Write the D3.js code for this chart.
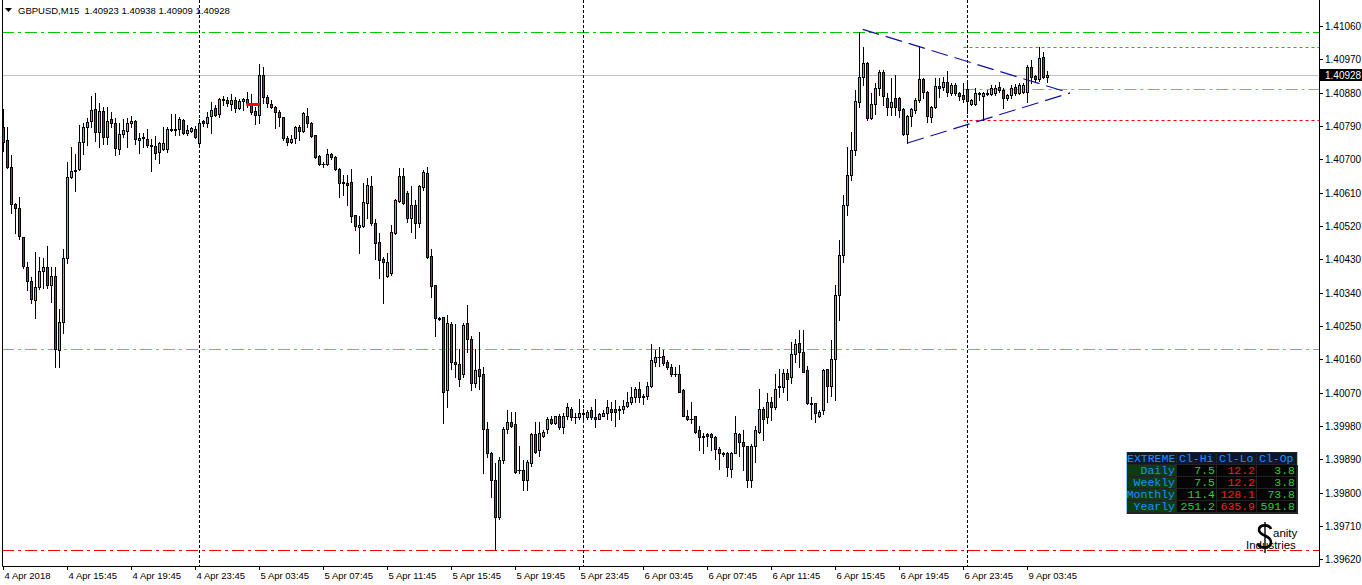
<!DOCTYPE html>
<html><head><meta charset="utf-8">
<script src="https://cdn.jsdelivr.net/npm/d3@7"></script>
<style>body{margin:0;background:#fff;overflow:hidden}svg{display:block}</style>
</head><body>
<svg id="chart" width="1362" height="585"></svg>
<script>
const symbolTitle = "GBPUSD,M15  1.40923 1.40938 1.40909 1.40928";
const timeLabels = ["4 Apr 2018","4 Apr 15:45","4 Apr 19:45","4 Apr 23:45","5 Apr 03:45","5 Apr 07:45","5 Apr 11:45","5 Apr 15:45","5 Apr 19:45","5 Apr 23:45","6 Apr 03:45","6 Apr 07:45","6 Apr 11:45","6 Apr 15:45","6 Apr 19:45","6 Apr 23:45","9 Apr 03:45"];
const timeLabelBars = [0,16,32,48,64,80,96,112,128,144,160,176,192,208,224,240,256];
const daySeparatorBars = [49,145,241];
const priceTicks = [1.41060,1.40970,1.40880,1.40790,1.40700,1.40610,1.40520,1.40430,1.40340,1.40250,1.40160,1.40070,1.39980,1.39890,1.39800,1.39710,1.39620];
const currentPrice = 1.40928;

const openP = [1.40787,1.40752,1.40679,1.40579,1.40568,1.40489,1.40408,1.40371,1.40319,1.40354,1.40398,1.40408,1.40360,1.40384,1.40184,1.40260,1.40433,1.40652,1.40668,1.40673,
1.40746,1.40787,1.40803,1.40835,1.40773,1.40830,1.40760,1.40808,1.40798,1.40727,1.40768,1.40776,1.40798,1.40803,1.40752,1.40757,1.40754,1.40738,1.40735,1.40719,
1.40727,1.40727,1.40781,1.40779,1.40781,1.40806,1.40771,1.40776,1.40781,1.40744,1.40803,1.40798,1.40816,1.40838,1.40822,1.40862,1.40860,1.40849,1.40860,1.40838,
1.40857,1.40862,1.40852,1.40830,1.40819,1.40927,1.40868,1.40849,1.40841,1.40827,1.40814,1.40757,1.40746,1.40757,1.40787,1.40776,1.40816,1.40798,1.40765,1.40708,
1.40687,1.40687,1.40714,1.40706,1.40673,1.40638,1.40635,1.40638,1.40549,1.40516,1.40519,1.40581,1.40627,1.40527,1.40476,1.40430,1.40384,1.40392,1.40500,1.40587,
1.40654,1.40608,1.40541,1.40576,1.40527,1.40625,1.40662,1.40438,1.40360,1.40271,1.40273,1.40076,1.40254,1.40154,1.40146,1.40119,1.40257,1.40214,1.40095,1.40135,
1.40119,1.39971,1.39906,1.39835,1.39733,1.39887,1.39971,1.39992,1.39984,1.39860,1.39862,1.39835,1.39881,1.39957,1.39916,1.39954,1.39971,1.40000,1.39987,1.40006,
1.39976,1.40008,1.40027,1.40003,1.40003,1.40016,1.40003,1.40022,1.40003,1.40000,1.40008,1.40014,1.40027,1.40025,1.40022,1.40027,1.40033,1.40046,1.40057,1.40079,
1.40060,1.40062,1.40087,1.40154,1.40165,1.40168,1.40152,1.40138,1.40119,1.40119,1.40076,1.40006,1.40000,1.40006,1.39968,1.39949,1.39957,1.39957,1.39949,1.39919,
1.39903,1.39906,1.39865,1.39908,1.39957,1.39938,1.39927,1.39835,1.39925,1.39965,1.40027,1.40003,1.40044,1.40030,1.40084,1.40084,1.40122,1.40111,1.40173,1.40203,
1.40181,1.40130,1.40041,1.40041,1.40008,1.40022,1.40133,1.40087,1.40162,1.40333,1.40441,1.40576,1.40657,1.40725,1.40854,1.40922,1.40960,1.40811,1.40849,1.40892,
1.40935,1.40865,1.40841,1.40865,1.40865,1.40835,1.40768,1.40816,1.40833,1.40860,1.40916,1.40881,1.40814,1.40841,1.40898,1.40895,1.40908,1.40879,1.40900,1.40879,
1.40873,1.40889,1.40849,1.40849,1.40879,1.40871,1.40879,1.40876,1.40879,1.40895,1.40887,1.40865,1.40873,1.40895,1.40879,1.40881,1.40881,1.40949,1.40925,1.40916,
1.40976,1.40923];
const highP = [1.40835,1.40787,1.40711,1.40581,1.40598,1.40489,1.40422,1.40381,1.40449,1.40435,1.40433,1.40465,1.40408,1.40408,1.40295,1.40457,1.40692,1.40733,1.40714,1.40792,
1.40798,1.40811,1.40871,1.40879,1.40852,1.40841,1.40841,1.40827,1.40811,1.40798,1.40808,1.40811,1.40816,1.40806,1.40771,1.40771,1.40781,1.40754,1.40762,1.40746,
1.40787,1.40787,1.40822,1.40822,1.40814,1.40808,1.40792,1.40787,1.40789,1.40808,1.40806,1.40827,1.40854,1.40846,1.40865,1.40871,1.40868,1.40876,1.40868,1.40862,
1.40865,1.40881,1.40876,1.40841,1.40957,1.40949,1.40873,1.40860,1.40844,1.40833,1.40814,1.40762,1.40765,1.40789,1.40792,1.40827,1.40838,1.40800,1.40765,1.40711,
1.40692,1.40727,1.40716,1.40708,1.40676,1.40657,1.40657,1.40673,1.40549,1.40546,1.40635,1.40649,1.40654,1.40538,1.40500,1.40435,1.40446,1.40522,1.40592,1.40676,
1.40676,1.40614,1.40627,1.40589,1.40630,1.40671,1.40679,1.40457,1.40360,1.40273,1.40273,1.40281,1.40262,1.40254,1.40189,1.40257,1.40306,1.40222,1.40187,1.40233,
1.40138,1.39992,1.39911,1.39879,1.39895,1.39976,1.40022,1.40019,1.40019,1.39925,1.39887,1.39887,1.39962,1.39992,1.39992,1.39968,1.40003,1.40008,1.40008,1.40011,
1.40014,1.40041,1.40030,1.40016,1.40052,1.40027,1.40022,1.40030,1.40052,1.40016,1.40022,1.40049,1.40044,1.40049,1.40035,1.40049,1.40071,1.40084,1.40084,1.40098,
1.40065,1.40098,1.40200,1.40184,1.40192,1.40184,1.40157,1.40146,1.40138,1.40144,1.40079,1.40022,1.40046,1.40006,1.39979,1.39960,1.39960,1.39960,1.39952,1.39922,
1.39911,1.39911,1.39911,1.40006,1.39962,1.39968,1.39927,1.39930,1.39981,1.40081,1.40030,1.40068,1.40057,1.40119,1.40133,1.40133,1.40133,1.40206,1.40214,1.40238,
1.40238,1.40141,1.40057,1.40041,1.40022,1.40133,1.40135,1.40211,1.40362,1.40481,1.40603,1.40733,1.40773,1.40887,1.41044,1.41003,1.40962,1.40879,1.40906,1.40941,
1.40941,1.40879,1.40919,1.40927,1.40868,1.40838,1.40819,1.40838,1.40865,1.41006,1.40919,1.40884,1.40844,1.40919,1.40919,1.40922,1.40938,1.40906,1.40906,1.40881,
1.40906,1.40908,1.40862,1.40892,1.40881,1.40881,1.40887,1.40900,1.40900,1.40908,1.40892,1.40876,1.40900,1.40903,1.40906,1.40906,1.40954,1.40968,1.40927,1.41003,
1.40989,1.40938];
const lowP = [1.40722,1.40676,1.40554,1.40500,1.40484,1.40406,1.40346,1.40311,1.40271,1.40349,1.40352,1.40352,1.40316,1.40138,1.40138,1.40230,1.40419,1.40649,1.40614,1.40671,
1.40714,1.40738,1.40787,1.40749,1.40733,1.40741,1.40741,1.40787,1.40711,1.40714,1.40760,1.40733,1.40787,1.40741,1.40716,1.40733,1.40733,1.40668,1.40700,1.40689,
1.40725,1.40719,1.40776,1.40765,1.40765,1.40768,1.40765,1.40773,1.40757,1.40738,1.40789,1.40787,1.40771,1.40816,1.40814,1.40846,1.40844,1.40833,1.40827,1.40835,
1.40833,1.40841,1.40822,1.40795,1.40798,1.40852,1.40841,1.40838,1.40784,1.40789,1.40752,1.40738,1.40744,1.40744,1.40752,1.40773,1.40787,1.40760,1.40703,1.40684,
1.40679,1.40684,1.40700,1.40671,1.40598,1.40603,1.40576,1.40530,1.40508,1.40446,1.40516,1.40541,1.40524,1.40430,1.40379,1.40311,1.40381,1.40389,1.40498,1.40584,
1.40579,1.40530,1.40503,1.40487,1.40516,1.40616,1.40433,1.40327,1.40222,1.40265,1.39989,1.40030,1.40135,1.40111,1.40087,1.40111,1.40179,1.40076,1.40084,1.40081,
1.39852,1.39895,1.39787,1.39644,1.39730,1.39881,1.39962,1.39976,1.39854,1.39854,1.39806,1.39808,1.39873,1.39908,1.39898,1.39949,1.39960,1.39984,1.39984,1.39971,
1.39960,1.40000,1.39995,1.39989,1.40000,1.40000,1.40000,1.40000,1.39976,1.39998,1.40006,1.39998,1.39995,1.39979,1.40000,1.40014,1.40030,1.40038,1.40046,1.40044,
1.40038,1.40054,1.40084,1.40141,1.40141,1.40144,1.40135,1.40116,1.40114,1.40071,1.40006,1.39995,1.39989,1.39962,1.39916,1.39906,1.39927,1.39914,1.39892,1.39865,
1.39898,1.39846,1.39841,1.39906,1.39900,1.39860,1.39814,1.39814,1.39884,1.39962,1.39941,1.39987,1.39995,1.40027,1.40057,1.40071,1.40049,1.40095,1.40152,1.40138,
1.40125,1.40038,1.39998,1.39992,1.40003,1.40011,1.40044,1.40060,1.40049,1.40265,1.40422,1.40549,1.40644,1.40711,1.40841,1.40900,1.40806,1.40808,1.40822,1.40873,
1.40846,1.40819,1.40819,1.40819,1.40814,1.40765,1.40744,1.40789,1.40825,1.40854,1.40865,1.40800,1.40800,1.40838,1.40868,1.40887,1.40871,1.40873,1.40873,1.40860,
1.40854,1.40825,1.40846,1.40846,1.40860,1.40806,1.40873,1.40873,1.40873,1.40881,1.40838,1.40860,1.40865,1.40873,1.40876,1.40879,1.40854,1.40906,1.40911,1.40911,
1.40919,1.40909];
const closeP = [1.40746,1.40679,1.40579,1.40568,1.40492,1.40411,1.40371,1.40322,1.40354,1.40398,1.40408,1.40360,1.40384,1.40187,1.40260,1.40433,1.40652,1.40668,1.40671,1.40746,
1.40787,1.40800,1.40833,1.40773,1.40830,1.40760,1.40803,1.40798,1.40730,1.40768,1.40779,1.40798,1.40803,1.40754,1.40757,1.40760,1.40738,1.40735,1.40716,1.40744,
1.40744,1.40781,1.40779,1.40781,1.40808,1.40771,1.40779,1.40784,1.40760,1.40798,1.40798,1.40814,1.40833,1.40819,1.40862,1.40860,1.40852,1.40860,1.40838,1.40857,
1.40862,1.40852,1.40827,1.40819,1.40927,1.40868,1.40852,1.40841,1.40827,1.40814,1.40757,1.40746,1.40754,1.40787,1.40776,1.40825,1.40798,1.40762,1.40706,1.40687,
1.40687,1.40714,1.40706,1.40673,1.40635,1.40635,1.40630,1.40546,1.40519,1.40522,1.40584,1.40630,1.40527,1.40473,1.40427,1.40422,1.40422,1.40503,1.40589,1.40654,
1.40581,1.40541,1.40576,1.40527,1.40627,1.40665,1.40435,1.40357,1.40271,1.40268,1.40071,1.40257,1.40152,1.40146,1.40108,1.40252,1.40214,1.40095,1.40130,1.40116,
1.39971,1.39906,1.39835,1.39733,1.39889,1.39973,1.39992,1.39981,1.39857,1.39862,1.39835,1.39884,1.39957,1.39911,1.39960,1.39965,1.40000,1.39987,1.40006,1.39976,
1.40008,1.40030,1.40003,1.40003,1.40016,1.40011,1.40019,1.40003,1.40000,1.40011,1.40016,1.40030,1.40019,1.40019,1.40027,1.40033,1.40046,1.40057,1.40081,1.40057,
1.40057,1.40089,1.40157,1.40165,1.40165,1.40149,1.40138,1.40119,1.40119,1.40073,1.40008,1.39998,1.40000,1.39965,1.39949,1.39954,1.39952,1.39949,1.39919,1.39906,
1.39908,1.39868,1.39906,1.39960,1.39938,1.39925,1.39835,1.39927,1.39968,1.40027,1.40000,1.40044,1.40030,1.40081,1.40087,1.40122,1.40108,1.40173,1.40200,1.40181,
1.40127,1.40041,1.40038,1.40014,1.40019,1.40130,1.40087,1.40162,1.40335,1.40441,1.40576,1.40657,1.40725,1.40857,1.40922,1.40960,1.40811,1.40849,1.40892,1.40935,
1.40871,1.40841,1.40854,1.40841,1.40833,1.40768,1.40816,1.40835,1.40860,1.40916,1.40881,1.40816,1.40841,1.40898,1.40892,1.40908,1.40881,1.40900,1.40879,1.40871,
1.40862,1.40857,1.40860,1.40879,1.40876,1.40879,1.40876,1.40892,1.40892,1.40887,1.40865,1.40873,1.40892,1.40879,1.40900,1.40900,1.40949,1.40922,1.40916,1.40973,
1.40922,1.40928];

// horizontal levels
const levelPrices = [1.41044, 1.41003, 1.40889, 1.40806, 1.40189, 1.39644];
const levelColors = ["#00c800", "#00c800", "#ff7a6a", "#ff0000", "#ff7a6a", "#ff0000"];
const levelDashes = ["12,4,3,4", "3,3", "12,4,3,4", "3,3", "12,4,3,4", "12,4,3,4"];
const levelStartBars = [null, 240, 240, 240, null, null];

// pennant (two trend lines meeting at apex)
const pennantBars = [214.8, 266.6, 226.0];
const pennantPrices = [1.41051, 1.40879, 1.40744];
// small red marker
const markerBars = [60.7, 64.1];
const markerPrice = 1.40848;

// info table
const tableHeader = ["EXTREME", "Cl-Hi", "Cl-Lo", "Cl-Op"];
const tableRows = ["Daily", "Weekly", "Monthly", "Yearly"];
const clHi = ["7.5", "7.5", "11.4", "251.2"];
const clLo = ["12.2", "12.2", "128.1", "635.9"];
const clOp = ["3.8", "3.8", "73.8", "591.8"];

// ---------------- drawing ----------------
const svg = d3.select("#chart");
const W = 1362, H = 585;
const plotL = 2, plotR = 1319, plotT = 0, plotB = 566;
const n = openP.length;
const x = d3.scaleLinear().domain([0, n - 1]).range([3.5, 3.5 + 4 * (n - 1)]);
const y = d3.scaleLinear().domain([1.39620, 1.41060]).range([559.3, 26]);
const AX = "Liberation Sans, Arial, sans-serif";

svg.append("rect").attr("width", W).attr("height", H).attr("fill", "#fff");

const gLevels = svg.append("g");
levelPrices.forEach((p, k) => {
  const yy = Math.round(y(p)) + 0.5;
  const x0 = levelStartBars[k] == null ? plotL : x(levelStartBars[k]);
  gLevels.append("line").attr("x1", x0).attr("x2", plotR).attr("y1", yy).attr("y2", yy)
    .attr("stroke", levelColors[k]).attr("stroke-width", 1).attr("stroke-dasharray", levelDashes[k]);
});
{
  const yy = Math.round(y(currentPrice)) + 0.5;
  gLevels.append("line").attr("x1", plotL).attr("x2", plotR).attr("y1", yy).attr("y2", yy)
    .attr("stroke", "#c0c0c0").attr("stroke-width", 1);
}
daySeparatorBars.forEach(b => {
  svg.append("line").attr("x1", x(b)).attr("x2", x(b)).attr("y1", plotT).attr("y2", plotB)
    .attr("stroke", "#000").attr("stroke-width", 1).attr("stroke-dasharray", "3,2");
});

// candles
const gC = svg.append("g");
d3.range(n).forEach(i => {
  const o = openP[i], c = closeP[i];
  const hi = Math.max(highP[i], o, c), lo = Math.min(lowP[i], o, c);
  const cx = x(i);
  const yh = Math.round(y(hi)), yl = Math.round(y(lo));
  gC.append("line").attr("x1", cx).attr("x2", cx).attr("y1", yh).attr("y2", yl + 1)
    .attr("stroke", "#000").attr("stroke-width", 1);
  const yt = Math.round(y(Math.max(o, c))), yb = Math.round(y(Math.min(o, c)));
  if (yb - yt < 1) {
    gC.append("line").attr("x1", cx - 2).attr("x2", cx + 2).attr("y1", yt + 0.5).attr("y2", yt + 0.5)
      .attr("stroke", "#000").attr("stroke-width", 1);
  } else {
    gC.append("rect").attr("x", cx - 1).attr("width", 2).attr("y", yt + 0.5).attr("height", yb - yt)
      .attr("fill", c >= o ? "#00e8e8" : "#c800c8").attr("stroke", "#000").attr("stroke-width", 1);
  }
});

[[0, 1], [2, 1]].forEach(([a, b]) => {
  svg.append("line").attr("x1", x(pennantBars[a])).attr("y1", y(pennantPrices[a]))
    .attr("x2", x(pennantBars[b])).attr("y2", y(pennantPrices[b]))
    .attr("stroke", "#1010a0").attr("stroke-width", 1.2).attr("stroke-dasharray", "17,7");
});
svg.append("line").attr("x1", x(markerBars[0])).attr("x2", x(markerBars[1]))
  .attr("y1", y(markerPrice)).attr("y2", y(markerPrice))
  .attr("stroke", "#ff0000").attr("stroke-width", 3);

// frame
svg.append("path").attr("d", `M${plotL + 0.5},${plotT} V${plotB + 0.5} H${plotR + 0.5} V${plotT}`)
  .attr("fill", "none").attr("stroke", "#000").attr("stroke-width", 1);

// price axis
const gP = svg.append("g");
priceTicks.forEach(p => {
  const yy = Math.round(y(p)) + 0.5;
  gP.append("line").attr("x1", plotR + 1).attr("x2", plotR + 4).attr("y1", yy).attr("y2", yy).attr("stroke", "#000");
  gP.append("text").attr("x", 1325).attr("y", yy + 3.5).attr("font-family", AX).attr("font-size", 10)
    .attr("fill", "#000").text(p.toFixed(5));
});
{
  const yy = Math.round(y(currentPrice)) + 0.5;
  gP.append("rect").attr("x", plotR + 1).attr("y", yy - 6.5).attr("width", W - plotR - 1).attr("height", 12).attr("fill", "#000");
  gP.append("text").attr("x", 1325).attr("y", yy + 3.5).attr("font-family", AX).attr("font-size", 10)
    .attr("fill", "#fff").text(currentPrice.toFixed(5));
}

// time axis
timeLabelBars.forEach((b, k) => {
  const xx = Math.floor(x(b)) + 0.5;
  svg.append("line").attr("x1", xx).attr("x2", xx).attr("y1", plotB).attr("y2", plotB + 4).attr("stroke", "#000");
  svg.append("text").attr("x", xx + 1).attr("y", 579).attr("font-family", AX).attr("font-size", 9.5)
    .attr("fill", "#000").text(timeLabels[k]);
});

// header
svg.append("path").attr("d", "M5,8 L12,8 L8.5,12 Z").attr("fill", "#000");
svg.append("text").attr("x", 18).attr("y", 14).attr("font-family", AX).attr("font-size", 9.5)
  .attr("fill", "#000").style("white-space", "pre").text(symbolTitle);

// info table
const T = svg.append("g");
const colX = [1127, 1177, 1217, 1257], colW = [49, 39, 39, 39];
const rowY = [453, 465, 477, 489, 501], rowH = 11;
T.append("rect").attr("x", 1126).attr("y", 452).attr("width", 172).attr("height", 62).attr("fill", "#222");
const MONO = "Liberation Mono, Courier New, monospace";
for (let r = 0; r < 5; r++) {
  for (let cI = 0; cI < 4; cI++) {
    let bg, txt, col;
    if (r === 0) { bg = "#0c1830"; txt = tableHeader[cI]; col = "#1e90ff"; }
    else if (cI === 0) { bg = "#0b3d12"; txt = tableRows[r - 1]; col = "#1e90ff"; }
    else {
      bg = "#050505";
      txt = [clHi, clLo, clOp][cI - 1][r - 1];
      col = cI === 2 ? "#ff1a1a" : "#32cd32";
    }
    T.append("rect").attr("x", colX[cI]).attr("y", rowY[r]).attr("width", colW[cI]).attr("height", rowH).attr("fill", bg);
    const right = r !== 0;
    T.append("text").attr("x", right ? colX[cI] + colW[cI] - 1 : colX[cI] + (cI === 0 ? 0 : 2))
      .attr("y", rowY[r] + 9).attr("text-anchor", right ? "end" : "start")
      .attr("font-family", MONO).attr("font-size", 11.5).attr("fill", col).text(txt);
  }
}
T.append("line").attr("x1", 1126.5).attr("x2", 1126.5).attr("y1", 452).attr("y2", 514).attr("stroke", "#87cefa");
T.append("line").attr("x1", 1297.5).attr("x2", 1297.5).attr("y1", 452).attr("y2", 465).attr("stroke", "#87cefa");

// logo: drawn S-dollar mark + text
const Lg = svg.append("g");
Lg.append("path").attr("d", "M1271,529 C1269,524 1259,524 1259,530 C1259,536 1271,535 1271,542 C1271,549 1260,549 1258,544")
  .attr("fill", "none").attr("stroke", "#000").attr("stroke-width", 2.6);
Lg.append("line").attr("x1", 1265).attr("x2", 1265).attr("y1", 522).attr("y2", 553).attr("stroke", "#000").attr("stroke-width", 1.4);
Lg.append("text").attr("x", 1273).attr("y", 537).attr("font-family", AX).attr("font-size", 11.5).attr("fill", "#000").text("anity");
Lg.append("text").attr("x", 1246).attr("y", 549).attr("font-family", AX).attr("font-size", 11.5).attr("fill", "#000").text("Industries");
</script>
</body></html>
